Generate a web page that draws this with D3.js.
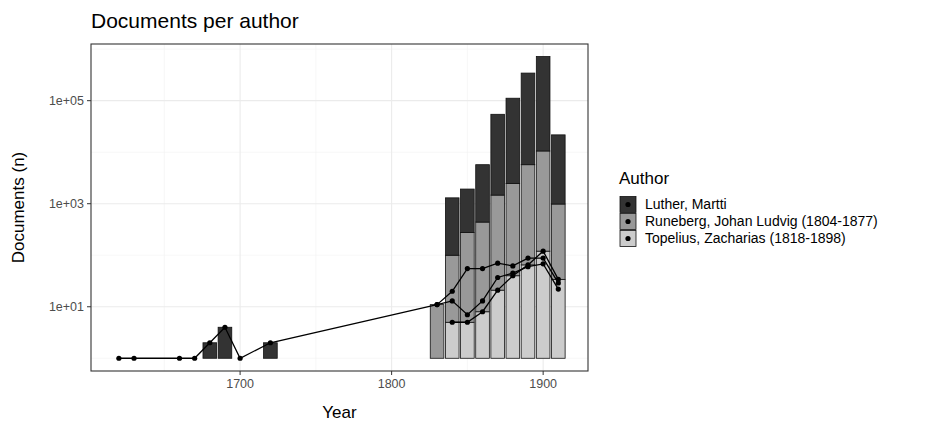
<!DOCTYPE html>
<html><head><meta charset="utf-8">
<script src="https://cdn.jsdelivr.net/npm/d3@7"></script>
<style>body{margin:0;background:#fff}svg{font-family:"Liberation Sans",Arial,sans-serif}</style>
</head><body><svg id="chart" width="936" height="432"></svg>
<script>
var authors = ["Luther, Martti", "Runeberg, Johan Ludvig (1804-1877)", "Topelius, Zacharias (1818-1898)"];
var fills = ["#333333", "#999999", "#cccccc"];
var decades = [1620,1630,1660,1670,1680,1690,1700,1720,1830,1840,1850,1860,1870,1880,1890,1900,1910];
// document counts per decade (null = none)
var luther   = [1,1,1,1,2,4,1,2,null,13,7,13,37,45,60,68,22];
var runeberg = [null,null,null,null,null,null,null,null,11,20,55,55,70,62,88,88,29];
var topelius = [null,null,null,null,null,null,null,null,null,5,5,8,21,40,65,120,34];
// line for Luther also passes through the 1830 point
var lutherLine = [1,1,1,1,2,4,1,2,11,13,7,13,37,45,60,68,22];
var xTicks = [1700, 1800, 1900];
var yTicks = [1e1, 1e3, 1e5];

var svg = d3.select("#chart");
var L = 91, R = 588, T = 44, B = 371;
var x = d3.scaleLinear().domain([1601.6, 1929.6]).range([L, R]);
var ly = d3.scaleLinear().domain([-0.247, 6.1]).range([B, T]);
var y = function (v) { return ly(Math.log10(v)); };

// grid
var g = svg.append("g");
[1650,1750,1850].forEach(function (d) {
	g.append("line").attr("x1", x(d)).attr("x2", x(d)).attr("y1", T).attr("y2", B).attr("stroke", "#f2f2f2").attr("stroke-width", 0.6);
});
[0,2,4,6].forEach(function (d) {
	g.append("line").attr("x1", L).attr("x2", R).attr("y1", ly(d)).attr("y2", ly(d)).attr("stroke", "#f2f2f2").attr("stroke-width", 0.6);
});
xTicks.forEach(function (d) {
	g.append("line").attr("x1", x(d)).attr("x2", x(d)).attr("y1", T).attr("y2", B).attr("stroke", "#ebebeb").attr("stroke-width", 1.1);
});
yTicks.forEach(function (d) {
	g.append("line").attr("x1", L).attr("x2", R).attr("y1", y(d)).attr("y2", y(d)).attr("stroke", "#ebebeb").attr("stroke-width", 1.1);
});

// stacked bars in log space: Topelius bottom, Runeberg, Luther on top
var series = [topelius, runeberg, luther];
var seriesFill = [fills[2], fills[1], fills[0]];
decades.forEach(function (d, i) {
	var base = 0;
	series.forEach(function (s, k) {
		var v = s[i];
		if (v == null) return;
		var h = Math.log10(v);
		if (h <= 0) { h = 0; }
		var top = base + h;
		var y0 = ly(base), y1 = ly(top);
		svg.append("rect").attr("x", x(d - 4.5)).attr("width", x(d + 4.5) - x(d - 4.5))
			.attr("y", y1).attr("height", Math.max(0, y0 - y1))
			.attr("fill", seriesFill[k]).attr("stroke", "#111").attr("stroke-width", 0.8);
		base = top;
	});
});

// lines and points
var line = d3.line().defined(function (d) { return d[1] != null; })
	.x(function (d) { return x(d[0]); }).y(function (d) { return y(d[1]); });
[lutherLine, runeberg, topelius].forEach(function (s) {
	var pts = decades.map(function (d, i) { return [d, s[i]]; });
	svg.append("path").datum(pts).attr("d", line).attr("fill", "none").attr("stroke", "#000").attr("stroke-width", 1.3);
	svg.selectAll(null).data(pts.filter(function (p) { return p[1] != null; })).enter().append("circle")
		.attr("cx", function (p) { return x(p[0]); }).attr("cy", function (p) { return y(p[1]); })
		.attr("r", 2.6).attr("fill", "#000");
});

// panel border
svg.append("rect").attr("x", L).attr("y", T).attr("width", R - L).attr("height", B - T)
	.attr("fill", "none").attr("stroke", "#333").attr("stroke-width", 1.1);

// axes
xTicks.forEach(function (d) {
	svg.append("line").attr("x1", x(d)).attr("x2", x(d)).attr("y1", B).attr("y2", B + 4).attr("stroke", "#333");
	svg.append("text").attr("x", x(d)).attr("y", B + 17).attr("text-anchor", "middle")
		.attr("font-size", 12.5).attr("fill", "#4d4d4d").text(d);
});
yTicks.forEach(function (d) {
	svg.append("line").attr("x1", L - 4).attr("x2", L).attr("y1", y(d)).attr("y2", y(d)).attr("stroke", "#333");
	svg.append("text").attr("x", L - 7).attr("y", y(d) + 4.5).attr("text-anchor", "end")
		.attr("font-size", 12.5).attr("fill", "#4d4d4d").text(d3.format(".0e")(d).replace("e+", "e+0"));
});
svg.append("text").attr("x", (L + R) / 2).attr("y", 418).attr("text-anchor", "middle").attr("font-size", 17).text("Year");
svg.append("text").attr("transform", "translate(24," + ((T + B) / 2) + ") rotate(-90)")
	.attr("text-anchor", "middle").attr("font-size", 17).text("Documents (n)");
svg.append("text").attr("x", 91).attr("y", 28).attr("font-size", 21).text("Documents per author");

// legend
svg.append("text").attr("x", 619).attr("y", 184).attr("font-size", 17).text("Author");
authors.forEach(function (a, i) {
	var yy = 196 + i * 17;
	svg.append("rect").attr("x", 620).attr("y", yy + 0.5).attr("width", 16).attr("height", 16)
		.attr("fill", fills[i]).attr("stroke", "#111").attr("stroke-width", 0.8);
	svg.append("circle").attr("cx", 628).attr("cy", yy + 8.5).attr("r", 2.6).attr("fill", "#000");
	svg.append("text").attr("x", 645).attr("y", yy + 13).attr("font-size", 14).text(a);
});
</script></body></html>
